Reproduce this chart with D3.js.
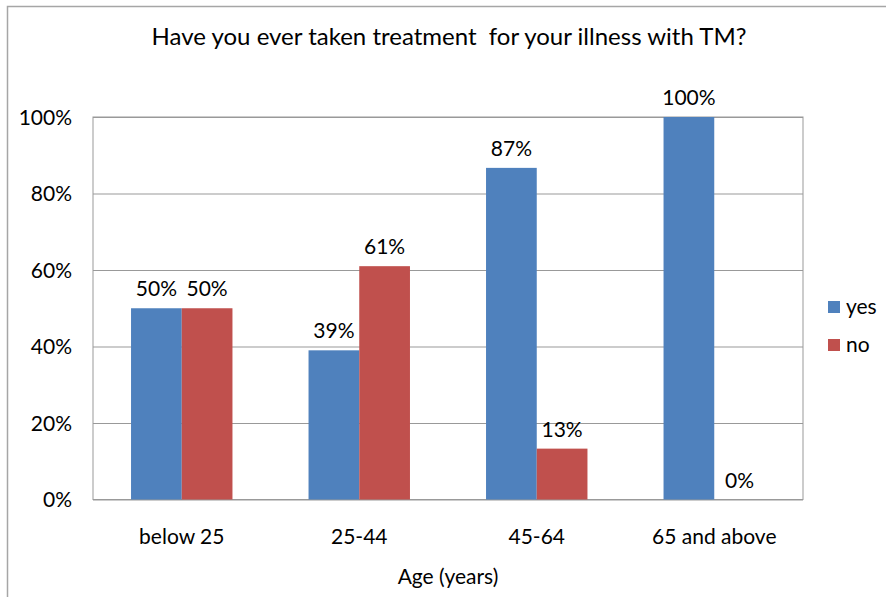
<!DOCTYPE html>
<html><head><meta charset="utf-8">
<script src="https://cdn.jsdelivr.net/npm/d3@7"></script>
<style>body{margin:0;background:#fff}svg{display:block}text{font-family:Lato,"Open Sans",sans-serif;fill:#000}</style>
</head><body><svg id="c" width="886" height="597"></svg>
<script>
const categories = ["below 25","25-44","45-64","65 and above"];
const yesValues = [50, 39, 86.7, 100];
const noValues = [50, 61, 13.3, 0];
const seriesNames = ["yes","no"];
const seriesColors = ["#4F81BD","#C0504D"];
const yTicks = [0,20,40,60,80,100];
const title = "Have you ever taken treatment  for your illness with TM?";
const xTitle = "Age (years)";

const svg = d3.select("#c");
const m = {l:93, r:803, t:117, b:499.5};
const fs = "21px";
svg.append("rect").attr("x",7.5).attr("y",6.5).attr("width",900).attr("height",640)
  .attr("fill","#fff").attr("stroke","#a6a6a6").attr("stroke-width",1.5);

const x = d3.scaleBand().domain(categories).range([m.l,m.r]).paddingInner(1.5/3.5).paddingOuter(0.75/3.5);
const xo = d3.scaleBand().domain(seriesNames).range([0,x.bandwidth()]);
const y = d3.scaleLinear().domain([0,100]).range([m.b,m.t]);

svg.append("rect").attr("x",m.l).attr("y",m.t).attr("width",m.r-m.l).attr("height",m.b-m.t)
  .attr("fill","none").attr("stroke","#999");
const yAxis = d3.axisLeft(y).tickValues(yTicks).tickFormat(d=>d+"%").tickSize(-(m.r-m.l)).tickPadding(21);
const ga = svg.append("g").attr("transform",`translate(${m.l},0)`).call(yAxis);
ga.select(".domain").remove();
ga.selectAll(".tick line").attr("stroke","#999").attr("stroke-width",1.2);
ga.selectAll(".tick text").style("font-size",fs).attr("dy","0.35em");

const data = categories.map((c,i)=>({c, vals:[yesValues[i], noValues[i]]}));
const g = svg.append("g");
data.forEach(d=>{
  d.vals.forEach((v,j)=>{
    const bx = x(d.c)+xo(seriesNames[j]);
    g.append("rect").attr("x",bx).attr("y",y(v)).attr("width",xo.bandwidth()).attr("height",y(0)-y(v))
      .attr("fill",seriesColors[j]);
    g.append("text").attr("x",bx+xo.bandwidth()/2).attr("y",y(v)-12).attr("text-anchor","middle")
      .style("font-size",fs).text(Math.round(v)+"%");
  });
});

const xa = d3.axisBottom(x).tickSize(0).tickPadding(0);
const gx = svg.append("g").attr("transform",`translate(0,${m.b})`).call(xa);
gx.select(".domain").remove();
gx.selectAll(".tick text").attr("dy",0).attr("y",44).style("font-size",fs);

svg.append("text").attr("x",449).attr("y",45).attr("text-anchor","middle").style("font-size","24px")
  .style("white-space","pre").text(title);
svg.append("text").attr("x",448).attr("y",584).attr("text-anchor","middle").style("font-size",fs).text(xTitle);

const lg = svg.append("g");
seriesNames.forEach((s,i)=>{
  lg.append("rect").attr("x",828).attr("y",301+i*38).attr("width",12).attr("height",12).attr("fill",seriesColors[i]);
  lg.append("text").attr("x",846).attr("y",314+i*38).style("font-size",fs).text(s);
});
</script></body></html>
